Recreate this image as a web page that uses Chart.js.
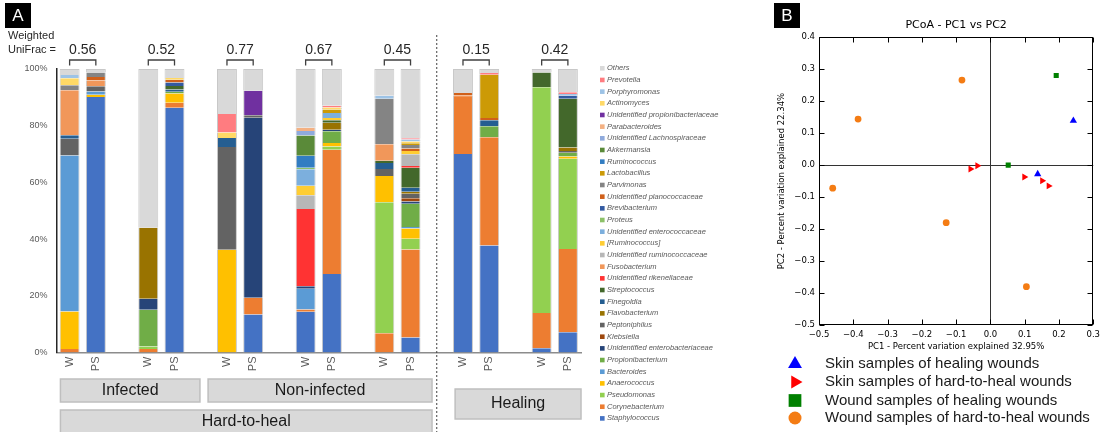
<!DOCTYPE html>
<html>
<head>
<meta charset="utf-8">
<script src="https://cdn.jsdelivr.net/npm/chart.js@4.4.1/dist/chart.umd.min.js"></script>
<style>
  html, body { margin: 0; padding: 0; background: #fff; }
  #wrap { position: relative; width: 1105px; height: 432px; overflow: hidden; }
  canvas { position: absolute; top: 0; }
  #barCanvas { left: 0; }
  #pcoaCanvas { left: 770px; }
</style>
</head>
<body>
<div id="wrap">
  <canvas id="barCanvas" width="770" height="432"></canvas>
  <canvas id="pcoaCanvas" width="335" height="432"></canvas>
</div>
<script>
// ---------- Panel A: taxa composition (%) per sample ----------
// 20 category slots: W / PS pairs separated by empty spacer slots
const sampleLabels = ['W', 'PS', '', 'W', 'PS', '', 'W', 'PS', '', 'W', 'PS', '', 'W', 'PS', '', 'W', 'PS', '', 'W', 'PS'];

// Weighted UniFrac distance within each W/PS pair
const uniFrac = [0.56, 0.52, 0.77, 0.67, 0.45, 0.15, 0.42];

// Group captions below the axis
const groupInfected = 'Infected';
const groupNonInfected = 'Non-infected';
const groupHardToHeal = 'Hard-to-heal';
const groupHealing = 'Healing';

// Genera, listed from the bottom of each stack to the top
const genera = [
  'Staphylococcus', 'Corynebacterium', 'Pseudomonas', 'Anaerococcus', 'Bacteroides',
  'Propionibacterium', 'Unidentified enterobacteriaceae', 'Klebsiella', 'Peptoniphilus',
  'Flavobacterium', 'Finegoldia', 'Streptococcus', 'Unidentified rikenellaceae',
  'Fusobacterium', 'Unidentified ruminococcaceae', '[Ruminococcus]',
  'Unidentified enterococcaceae', 'Proteus', 'Brevibacterium', 'Unidentified planococcaceae',
  'Parvimonas', 'Lactobacillus', 'Ruminococcus', 'Akkermansia', 'Unidentified Lachnospiraceae',
  'Parabacteroides', 'Unidentified propionibacteriaceae', 'Actinomyces', 'Porphyromonas',
  'Prevotella', 'Others'
];

// Relative abundance (%), 14 bars each: W1, PS1, W2, PS2, ... W7, PS7
const staphylococcus       = [0, 90.1, 0, 86.3, 0, 13.4, 14.4, 27.7, 0, 5.3, 70.0, 37.7, 1.5, 7.1];
const corynebacterium      = [1.2, 0, 1.2, 1.8, 0, 5.9, 0.8, 43.8, 6.8, 31.0, 20.1, 38.2, 12.4, 29.4];
const pseudomonas          = [0, 0, 0.9, 0, 0, 0, 0, 1.2, 46.2, 3.8, 0, 0, 79.7, 31.8];
const anaerococcus         = [13.3, 0.8, 0, 3.3, 36.2, 0, 0, 1.2, 9.3, 3.6, 0, 0, 0, 0.8];
const bacteroides          = [55.0, 1.2, 0, 0, 0, 0, 7.3, 0, 0, 0.6, 0, 0, 0, 0];
const propionibacterium    = [0, 0, 13.0, 0.6, 0, 0, 0, 4.1, 0, 8.2, 0, 3.9, 0, 1.4];
const enterobacteriaceae   = [0, 0, 3.9, 0, 0, 63.5, 0.9, 0.6, 0, 0.8, 0, 0, 0, 0];
const klebsiella           = [0, 0, 0, 0, 0, 0, 0, 0, 0, 1.1, 0, 0, 0, 0];
const peptoniphilus        = [5.9, 1.8, 0, 0, 36.3, 0.9, 0, 0, 2.4, 1.6, 0, 0, 0, 0.6];
const flavobacterium       = [0, 0, 25.0, 0, 0, 0, 0, 2.4, 0, 0.7, 0, 0, 0, 1.2];
const finegoldia           = [1.2, 0, 0, 0.8, 3.2, 0, 0, 0, 2.1, 1.4, 0, 2.1, 0, 0];
const streptococcus        = [0, 0, 0, 1.2, 0, 0, 0, 0.9, 0.8, 7.1, 0, 0, 5.2, 17.2];
const rikenellaceae        = [0, 0, 0, 0, 0, 0, 27.2, 0, 0, 0.6, 0, 0, 0, 0];
const fusobacterium        = [15.9, 2.0, 0, 0, 0, 0, 0, 0, 5.9, 0, 0.6, 0, 0, 0];
const ruminococcaceae      = [0, 0, 0, 0, 0, 0, 4.9, 0, 0, 4.1, 0, 0, 0, 0];
const ruminococcusBracket  = [0, 0, 0, 0, 0, 0, 3.3, 0.8, 0, 1.2, 0, 0, 0, 0];
const enterococcaceae      = [0, 0, 0, 0, 0, 0, 5.8, 1.8, 0, 0, 0, 0, 0, 0];
const proteus              = [0, 0, 0, 0, 0, 0, 0.6, 0, 0, 0, 0, 0, 0, 0];
const brevibacterium       = [0, 0, 0, 1.2, 0, 0, 0, 0, 0, 0, 0, 0, 0, 1.1];
const planococcaceae       = [0, 1.3, 0, 1.0, 0, 0, 0, 0, 0, 0.9, 0.8, 0.8, 0, 0];
const parvimonas           = [1.8, 1.6, 0, 0, 0, 0, 0, 0, 16.0, 1.2, 0, 0, 0, 0];
const lactobacillus        = [0, 0, 0, 0, 0, 0, 0, 1.2, 0, 0.6, 0, 15.3, 0, 0];
const ruminococcus         = [0, 0, 0, 0, 0, 0, 4.2, 0, 0, 0, 0, 0, 0, 0];
const akkermansia          = [0, 0, 0, 0, 0, 0, 7.1, 0, 0, 0, 0, 0, 0, 0];
const lachnospiraceae      = [0, 0, 0, 0, 0, 0, 1.6, 0, 0, 0, 0, 0, 0, 0];
const parabacteroides      = [0, 0, 0, 0, 0, 0, 1.2, 0, 0, 0, 0, 0, 0, 0];
const propionibacteriaceae = [0, 0, 0, 0, 0, 8.6, 0, 0, 0, 0, 0, 0, 0, 0];
const actinomyces          = [2.4, 0, 0, 0.6, 1.9, 0, 0, 0.7, 0, 0.6, 0, 0, 0, 0];
const porphyromonas        = [1.2, 0, 0, 0, 0, 0, 0, 0, 1.1, 0.7, 0, 0, 0, 0.6];
const prevotella           = [0, 0, 0, 0, 6.5, 0, 0, 0.6, 0, 0.5, 0, 0.6, 0, 0.6];
const others               = [2.1, 1.2, 56.0, 3.2, 15.9, 7.7, 20.7, 13.0, 9.4, 24.4, 8.5, 1.4, 1.2, 8.2];

const seriesValues = [
  staphylococcus, corynebacterium, pseudomonas, anaerococcus, bacteroides,
  propionibacterium, enterobacteriaceae, klebsiella, peptoniphilus, flavobacterium,
  finegoldia, streptococcus, rikenellaceae, fusobacterium, ruminococcaceae,
  ruminococcusBracket, enterococcaceae, proteus, brevibacterium, planococcaceae,
  parvimonas, lactobacillus, ruminococcus, akkermansia, lachnospiraceae,
  parabacteroides, propionibacteriaceae, actinomyces, porphyromonas, prevotella, others
];

const palette = [
  '#4472C4', '#ED7D31', '#92D050', '#FFC000', '#5B9BD5',
  '#70AD47', '#264478', '#9E480E', '#636363', '#997300',
  '#255E91', '#43682B', '#FF3333', '#F1975A', '#B7B7B7',
  '#FFCD33', '#7CAFDD', '#8CC168', '#335AA1', '#D0601A',
  '#848484', '#CC9A06', '#327DC2', '#5A8A39', '#8FAADC',
  '#F4B183', '#7030A0', '#FFD966', '#9DC3E6', '#FF7C80', '#D9D9D9'
];

// place the 14 bar values into the 20 slots (spacers stay empty)
function toSlots(values) {
  const out = new Array(sampleLabels.length).fill(null);
  values.forEach((v, k) => {
    const slot = Math.floor(k / 2) * 3 + (k % 2);
    out[slot] = v > 0 ? v : null;
  });
  return out;
}

const FONT = '"Liberation Sans", Arial, sans-serif';

const panelADecor = {
  id: 'panelADecor',
  afterDraw(chart) {
    const { ctx, chartArea: ca, scales: { x } } = chart;
    const px = i => x.getPixelForValue(i);
    const slot = px(1) - px(0);
    ctx.save();

    // panel letter
    ctx.fillStyle = '#000';
    ctx.fillRect(5, 3, 26, 25);
    ctx.fillStyle = '#fff';
    ctx.font = '17px ' + FONT;
    ctx.textAlign = 'center';
    ctx.textBaseline = 'middle';
    ctx.fillText('A', 18, 16);

    // distance caption
    ctx.fillStyle = '#262626';
    ctx.font = '11px ' + FONT;
    ctx.textAlign = 'left';
    ctx.fillText('Weighted', 8, 36);
    ctx.fillText('UniFrac =', 8, 50);

    // bracket + value over each W/PS pair
    uniFrac.forEach((v, p) => {
      const x0 = px(p * 3), x1 = px(p * 3 + 1);
      const yb = ca.top - 9;
      ctx.strokeStyle = '#404040';
      ctx.lineWidth = 1.3;
      ctx.beginPath();
      ctx.moveTo(x0, yb + 5.5);
      ctx.lineTo(x0, yb);
      ctx.lineTo(x1, yb);
      ctx.lineTo(x1, yb + 5.5);
      ctx.stroke();
      ctx.fillStyle = '#262626';
      ctx.font = '14px ' + FONT;
      ctx.textAlign = 'center';
      ctx.fillText(v.toFixed(2), (x0 + x1) / 2, yb - 10);
    });

    // dotted separator between hard-to-heal and healing wounds
    const xs = px(14);
    ctx.strokeStyle = '#404040';
    ctx.lineWidth = 1;
    ctx.setLineDash([2, 2]);
    ctx.beginPath();
    ctx.moveTo(xs, 35);
    ctx.lineTo(xs, 432);
    ctx.stroke();
    ctx.setLineDash([]);

    // group caption boxes
    function groupBox(l, r, t, b, label, ty) {
      ctx.fillStyle = '#D9D9D9';
      ctx.fillRect(l, t, r - l, b - t);
      ctx.strokeStyle = '#BFBFBF';
      ctx.lineWidth = 1.5;
      ctx.strokeRect(l, t, r - l, b - t);
      ctx.fillStyle = '#1a1a1a';
      ctx.font = '16px ' + FONT;
      ctx.textAlign = 'center';
      ctx.textBaseline = 'middle';
      ctx.fillText(label, (l + r) / 2, ty);
    }
    const hardL = px(0) - 0.35 * slot;
    const hardR = px(14) - 0.18 * slot;
    groupBox(hardL, px(4) + 0.97 * slot, 379, 402, groupInfected, 391);
    groupBox(px(5) + 0.28 * slot, hardR, 379, 402, groupNonInfected, 391);
    groupBox(hardL, hardR, 410, 440, groupHardToHeal, 422);
    groupBox(px(15) - 0.3 * slot, px(19) + 0.5 * slot, 389, 419, groupHealing, 404);

    // legend: top entry is the top of the stack
    const items = chart.data.datasets.slice().reverse();
    ctx.font = 'italic 7.5px ' + FONT;
    ctx.textAlign = 'left';
    ctx.textBaseline = 'middle';
    items.forEach((ds, k) => {
      const y = 68.3 + k * 11.67;
      ctx.fillStyle = ds.backgroundColor;
      ctx.fillRect(600, y - 2.3, 4.6, 4.6);
      ctx.fillStyle = '#595959';
      ctx.fillText(ds.label, 607, y);
    });
    ctx.restore();
  }
};

new Chart(document.getElementById('barCanvas'), {
  type: 'bar',
  data: {
    labels: sampleLabels,
    datasets: genera.map((name, i) => ({
      label: name,
      data: toSlots(seriesValues[i]),
      backgroundColor: palette[i],
      borderColor: '#C8C8C8',
      borderWidth: { left: 1, right: 1, top: name === 'Others' ? 1 : 0, bottom: 0 },
      borderSkipped: false,
      barPercentage: 0.76,
      categoryPercentage: 1.0
    }))
  },
  options: {
    responsive: false,
    animation: false,
    devicePixelRatio: 1,
    layout: { padding: { left: 0, right: 189, top: 69, bottom: 59.5 } },
    plugins: { legend: { display: false }, tooltip: { enabled: false } },
    scales: {
      x: {
        stacked: true,
        grid: { display: false, drawTicks: false },
        border: { display: true, color: '#8C8C8C', width: 1.5 },
        ticks: {
          autoSkip: false, minRotation: 90, maxRotation: 90, padding: 4,
          color: '#595959', font: { family: FONT, size: 11 }
        },
        afterFit: s => { s.height = 20; }
      },
      y: {
        stacked: true,
        min: 0, max: 100,
        grid: { display: false, drawTicks: false },
        border: { display: true, color: '#262626', width: 1.5 },
        ticks: {
          stepSize: 20, padding: 9, color: '#595959',
          font: { family: FONT, size: 9 },
          callback: v => v + '%'
        },
        afterFit: s => { s.width = 56.5; }
      }
    }
  },
  plugins: [panelADecor]
});

// ---------- Panel B: PCoA ordination ----------
const skinHealingPC1 = [0.138, 0.242];
const skinHealingPC2 = [-0.028, 0.139];
const skinHardPC1 = [-0.058, -0.038, 0.099, 0.151, 0.170];
const skinHardPC2 = [-0.012, -0.002, -0.037, -0.049, -0.065];
const woundHealingPC1 = [0.192, 0.052];
const woundHealingPC2 = [0.280, 0.0];
const woundHardPC1 = [-0.083, -0.386, -0.460, -0.129, 0.105];
const woundHardPC2 = [0.266, 0.144, -0.072, -0.180, -0.380];

const pts = (xs, ys) => xs.map((v, i) => ({ x: v, y: ys[i] }));
const DV = '"DejaVu Sans", sans-serif';
const fmt = v => (v < -1e-9 ? '\u2212' : '') + Math.abs(v).toFixed(1);
const zeroLine = c => (c.tick && Math.abs(c.tick.value) < 1e-9) ? '#333333' : 'rgba(0,0,0,0)';

function drawMarker(ctx, style, rotation, r, x, y) {
  if (Chart.helpers && Chart.helpers.drawPoint) {
    Chart.helpers.drawPoint(ctx, { pointStyle: style, rotation: rotation, radius: r, borderWidth: 0 }, x, y);
    return;
  }
  ctx.beginPath();
  if (style === 'circle') ctx.arc(x, y, r, 0, Math.PI * 2);
  else if (style === 'rect') { const s = r * Math.SQRT1_2; ctx.rect(x - s, y - s, 2 * s, 2 * s); }
  else {
    const a0 = (rotation - 90) * Math.PI / 180;
    for (let k = 0; k < 3; k++) {
      const a = a0 + k * 2 * Math.PI / 3;
      const px = x + Math.cos(a) * r, py = y + Math.sin(a) * r;
      k ? ctx.lineTo(px, py) : ctx.moveTo(px, py);
    }
    ctx.closePath();
  }
  ctx.fill();
}

const pcoaDecor = {
  id: 'pcoaDecor',
  afterDraw(chart) {
    const { ctx, chartArea: ca, scales: { x, y } } = chart;
    ctx.save();
    // panel letter
    ctx.fillStyle = '#000';
    ctx.fillRect(4, 3, 26, 25);
    ctx.fillStyle = '#fff';
    ctx.font = '17px ' + FONT;
    ctx.textAlign = 'center';
    ctx.textBaseline = 'middle';
    ctx.fillText('B', 17, 16);

    // frame and inward ticks on all four sides
    const L = Math.round(ca.left) + 0.5, R = Math.round(ca.right) - 0.5;
    const T = Math.round(ca.top) + 0.5, B = Math.round(ca.bottom) - 0.5;
    ctx.strokeStyle = '#000';
    ctx.lineWidth = 1;
    ctx.strokeRect(L, T, R - L, B - T);
    ctx.beginPath();
    x.ticks.forEach(t => {
      const xp = Math.round(x.getPixelForValue(t.value)) + 0.5;
      ctx.moveTo(xp, B); ctx.lineTo(xp, B - 5);
      ctx.moveTo(xp, T); ctx.lineTo(xp, T + 5);
    });
    y.ticks.forEach(t => {
      const yp = Math.round(y.getPixelForValue(t.value)) + 0.5;
      ctx.moveTo(L, yp); ctx.lineTo(L + 5, yp);
      ctx.moveTo(R, yp); ctx.lineTo(R - 5, yp);
    });
    ctx.stroke();

    // legend under the plot
    const rows = [364, 382, 400.5, 418];
    chart.data.datasets.forEach((ds, k) => {
      ctx.fillStyle = ds.backgroundColor;
      drawMarker(ctx, ds.pointStyle, ds.rotation || 0, ds.legendRadius, 25, rows[k]);
      ctx.fillStyle = '#1a1a1a';
      ctx.font = '15px ' + FONT;
      ctx.textAlign = 'left';
      ctx.textBaseline = 'middle';
      ctx.fillText(ds.label, 55, rows[k]);
    });
    ctx.restore();
  }
};

new Chart(document.getElementById('pcoaCanvas'), {
  type: 'scatter',
  data: {
    datasets: [
      { label: 'Skin samples of healing wounds', data: pts(skinHealingPC1, skinHealingPC2),
        backgroundColor: '#0000FF', pointStyle: 'triangle', rotation: 0, pointRadius: 4.2, legendRadius: 8 },
      { label: 'Skin samples of hard-to-heal wounds', data: pts(skinHardPC1, skinHardPC2),
        backgroundColor: '#FF0000', pointStyle: 'triangle', rotation: 90, pointRadius: 4, legendRadius: 7.5 },
      { label: 'Wound samples of healing wounds', data: pts(woundHealingPC1, woundHealingPC2),
        backgroundColor: '#008000', pointStyle: 'rect', rotation: 0, pointRadius: 3.6, legendRadius: 9 },
      { label: 'Wound samples of hard-to-heal wounds', data: pts(woundHardPC1, woundHardPC2),
        backgroundColor: '#F47C14', pointStyle: 'circle', rotation: 0, pointRadius: 3.4, legendRadius: 6.5 }
    ].map(d => Object.assign(d, { borderWidth: 0, pointHoverRadius: d.pointRadius }))
  },
  options: {
    responsive: false,
    animation: false,
    devicePixelRatio: 1,
    layout: { padding: { left: 0, right: 9, top: 0, bottom: 77 } },
    plugins: {
      legend: { display: false },
      tooltip: { enabled: false },
      title: {
        display: true, fullSize: false, text: 'PCoA - PC1 vs PC2', color: '#000',
        font: { family: DV, size: 11, weight: 'normal' },
        padding: { top: 19, bottom: 5 }
      }
    },
    scales: {
      x: {
        type: 'linear', min: -0.5, max: 0.3,
        grid: { color: zeroLine, drawTicks: false, lineWidth: 1 },
        border: { display: false },
        ticks: { stepSize: 0.1, padding: 5, color: '#000', font: { family: DV, size: 8.5 }, callback: fmt },
        title: { display: true, text: 'PC1 - Percent variation explained 32.95%', color: '#000',
                 font: { family: DV, size: 8.5 }, padding: { top: 0, bottom: 3 } },
        afterFit: s => { s.height = 30; }
      },
      y: {
        type: 'linear', min: -0.5, max: 0.4,
        grid: { color: zeroLine, drawTicks: false, lineWidth: 1 },
        border: { display: false },
        ticks: { stepSize: 0.1, padding: 4, color: '#000', font: { family: DV, size: 8.5 }, callback: fmt },
        title: { display: true, text: 'PC2 - Percent variation explained 22.34%', color: '#000',
                 font: { family: DV, size: 8.5 }, padding: { top: 7, bottom: 0 } },
        afterFit: s => { s.width = 49; }
      }
    }
  },
  plugins: [pcoaDecor]
});
</script>
</body>
</html>
